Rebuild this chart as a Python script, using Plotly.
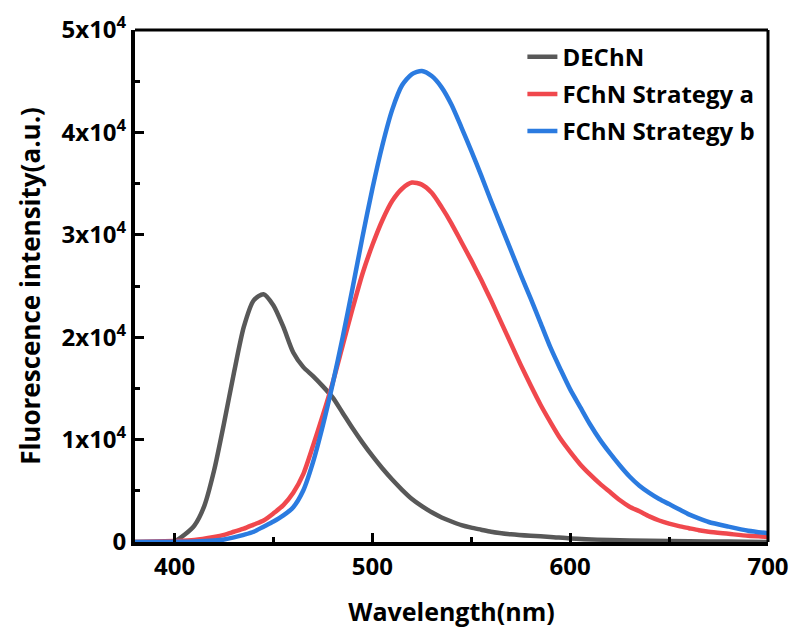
import plotly.graph_objects as go

# DEChN (gray), intensity in units of 1e4
wl_dechn = [380, 385, 390, 395, 400, 405, 410, 415, 420, 425, 430, 435, 440, 445, 450, 455,
            460, 465, 470, 475, 480, 485, 490, 495, 500, 505, 510, 515, 520, 525, 530, 535,
            540, 545, 550, 555, 560, 570, 580, 590, 600, 620, 640, 660, 680, 700]
int_dechn = [0, 0, 0, 0, 0.005, 0.07, 0.16, 0.35, 0.70, 1.16, 1.65, 2.10, 2.36, 2.42, 2.31, 2.10,
             1.85, 1.71, 1.62, 1.52, 1.41, 1.26, 1.11, 0.97, 0.84, 0.72, 0.61, 0.51, 0.42, 0.35,
             0.29, 0.24, 0.20, 0.165, 0.14, 0.12, 0.10, 0.075, 0.06, 0.05, 0.035, 0.02, 0.012,
             0.007, 0.004, 0]

# FChN Strategy a (red)
wl_a = [380, 390, 400, 410, 420, 425, 430, 435, 440, 445, 450, 455, 460, 465, 470, 475, 480,
        485, 490, 495, 500, 505, 510, 515, 520, 525, 530, 535, 540, 545, 550, 555, 560, 565,
        570, 575, 580, 585, 590, 595, 600, 605, 610, 615, 620, 625, 630, 635, 640, 645, 650,
        655, 660, 665, 670, 680, 690, 700]
int_a = [0, 0.005, 0.01, 0.02, 0.05, 0.07, 0.10, 0.13, 0.17, 0.21, 0.28, 0.36, 0.48, 0.66, 0.94,
         1.24, 1.56, 1.92, 2.28, 2.62, 2.90, 3.14, 3.33, 3.45, 3.51, 3.49, 3.41, 3.27, 3.11, 2.93,
         2.75, 2.56, 2.36, 2.15, 1.94, 1.73, 1.53, 1.34, 1.17, 1.01, 0.88, 0.76, 0.66, 0.57, 0.49,
         0.41, 0.345, 0.30, 0.25, 0.21, 0.18, 0.155, 0.135, 0.115, 0.10, 0.08, 0.06, 0.05]

# FChN Strategy b (blue)
wl_b = [380, 400, 410, 420, 425, 430, 435, 440, 445, 450, 455, 460, 465, 470, 475, 480, 485,
        490, 495, 500, 505, 510, 515, 520, 525, 530, 535, 540, 545, 550, 555, 560, 565, 570,
        575, 580, 585, 590, 595, 600, 605, 610, 615, 620, 625, 630, 635, 640, 645, 650, 655,
        660, 665, 670, 680, 690, 700]
int_b = [0, 0.002, 0.005, 0.015, 0.025, 0.045, 0.07, 0.10, 0.15, 0.20, 0.26, 0.34, 0.50, 0.78,
         1.14, 1.55, 2.00, 2.48, 2.98, 3.45, 3.87, 4.22, 4.46, 4.57, 4.60, 4.55, 4.44, 4.27, 4.05,
         3.82, 3.58, 3.33, 3.09, 2.85, 2.61, 2.38, 2.14, 1.90, 1.69, 1.49, 1.32, 1.15, 1.00, 0.87,
         0.75, 0.64, 0.55, 0.48, 0.42, 0.37, 0.32, 0.27, 0.23, 0.195, 0.15, 0.11, 0.085]

y_tickvals = [0, 10000, 20000, 30000, 40000, 50000]
y_ticktext = ["0", "1x10<sup>4</sup>", "2x10<sup>4</sup>", "3x10<sup>4</sup>",
              "4x10<sup>4</sup>", "5x10<sup>4</sup>"]
x_tickvals = [400, 500, 600, 700]

FONT = "Open Sans"

fig = go.Figure()
series = [
    ("DEChN", wl_dechn, int_dechn, "#585858"),
    ("FChN Strategy a", wl_a, int_a, "#f0484d"),
    ("FChN Strategy b", wl_b, int_b, "#2b7be0"),
]
for name, xs, ys, col in series:
    fig.add_trace(go.Scatter(
        x=xs, y=[v * 1e4 for v in ys], mode="lines", name=name, legendgroup=name,
        line=dict(color=col, width=4.5, shape="spline", smoothing=0.7),
    ))

fig.update_layout(
    width=792, height=628,
    margin=dict(l=135, r=24, t=30, b=86, autoexpand=False),
    plot_bgcolor="white", paper_bgcolor="white",
    font=dict(family=FONT, color="black"),
    showlegend=True,
    legend=dict(x=0.612, y=0.991, xanchor="left", yanchor="top",
                bgcolor="rgba(0,0,0,0)", borderwidth=0,
                font=dict(family=FONT, size=24, color="black", weight="bold"),
                tracegroupgap=3),
    xaxis=dict(
        range=[380, 700], tickvals=x_tickvals, ticks="inside", ticklen=9,
        tickwidth=3, tickcolor="black", showline=True, linewidth=4, linecolor="black",
        showgrid=False, zeroline=False, automargin=True,
        tickfont=dict(family=FONT, size=24, weight="bold"),
        minor=dict(ticks="inside", ticklen=5, tickwidth=3, dtick=50, tick0=400,
                   tickcolor="black", showgrid=False),
        title=dict(text="Wavelength(nm)", font=dict(family=FONT, size=25, weight="bold"),
                   standoff=31),
    ),
    yaxis=dict(
        range=[0, 50000], tickvals=y_tickvals, ticktext=y_ticktext, ticks="inside",
        ticklen=9, tickwidth=3, tickcolor="black", showline=True, linewidth=4,
        linecolor="black", showgrid=False, zeroline=False, automargin=True,
        tickfont=dict(family=FONT, size=24, weight="bold"),
        minor=dict(ticks="inside", ticklen=5, tickwidth=3, dtick=5000, tick0=0,
                   tickcolor="black", showgrid=False),
        title=dict(text="Fluorescence intensity(a.u.)",
                   font=dict(family=FONT, size=26, weight="bold"), standoff=14),
    ),
)

# top and right frame lines (thinner than left/bottom)
fig.add_shape(type="line", xref="paper", yref="paper", x0=0, x1=1, y0=1, y1=1,
              line=dict(color="black", width=3))
fig.add_shape(type="line", xref="paper", yref="paper", x0=1, x1=1, y0=0, y1=1,
              line=dict(color="black", width=3))

fig.write_html("out.html", config={"displayModeBar": False},
               post_script="document.body.style.margin='0';")
